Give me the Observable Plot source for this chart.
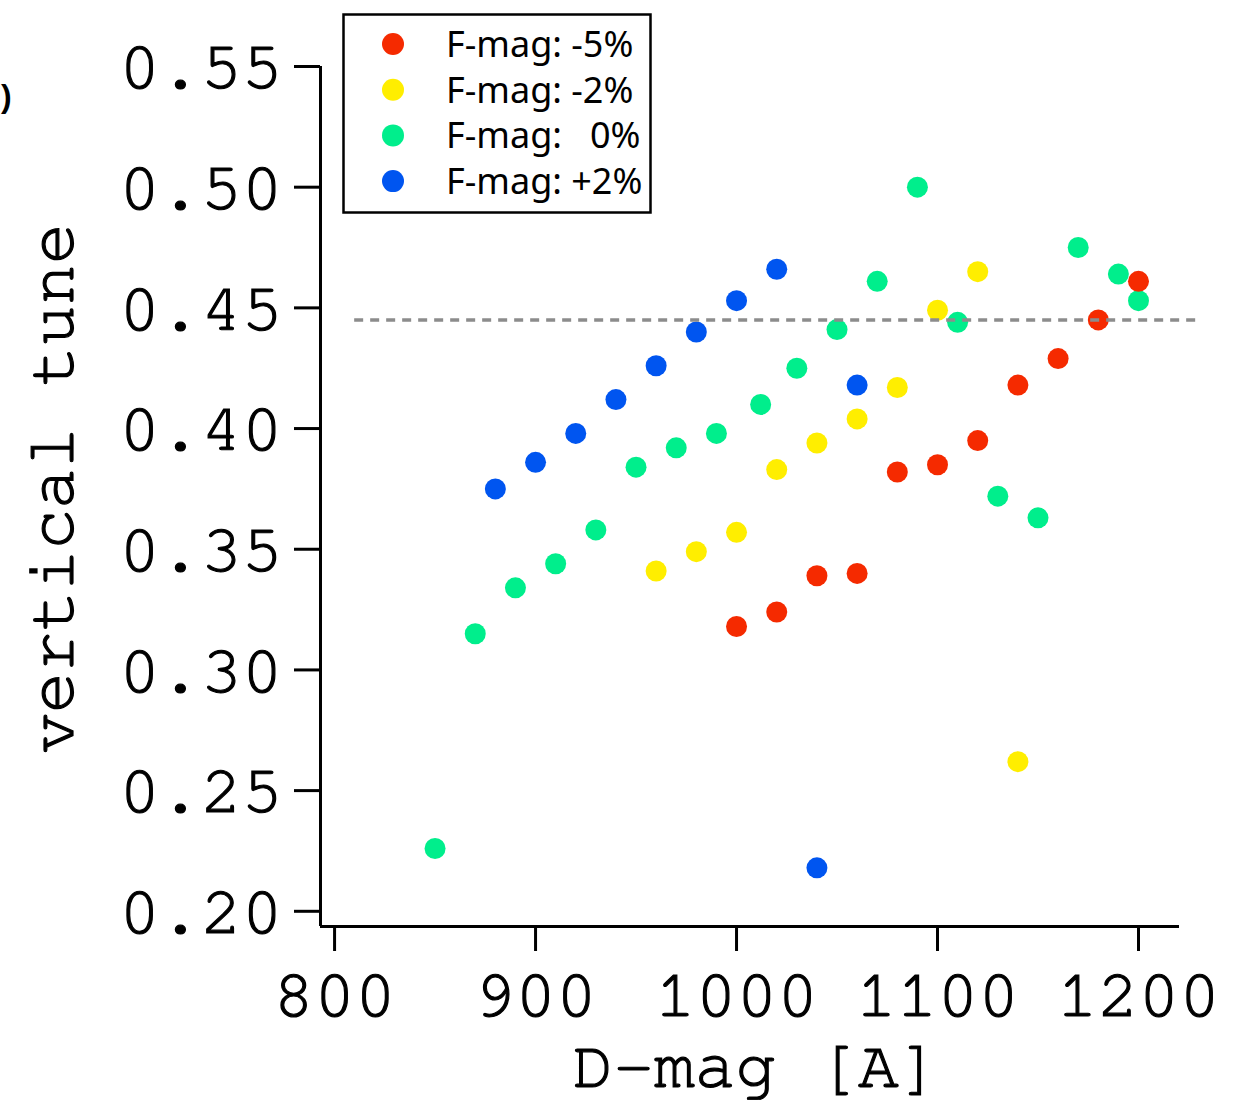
<!DOCTYPE html>
<html>
<head>
<meta charset="utf-8">
<script src="https://cdn.jsdelivr.net/npm/d3@7"></script>
<script src="https://cdn.jsdelivr.net/npm/@observablehq/plot@0.6"></script>
<style>
  html, body { margin: 0; padding: 0; background: #fff; }
  #wrap { position: relative; width: 1239px; height: 1100px; overflow: hidden; }
  #legend { position: absolute; left: 0; top: 0; }
  #frag { position: absolute; left: 1px; top: 80px; font: 700 32px "Liberation Sans", Arial, sans-serif; color: #000; line-height: 1; }
  .mainchart text { stroke: #000; stroke-width: 1.2px; }
</style>
</head>
<body>
<div id="wrap"></div>
<script>
// ---- data ----
const categories = ["F-mag: -5%", "F-mag: -2%", "F-mag:   0%", "F-mag: +2%"];
const colors = ["#f52a00", "#ffee00", "#00ee8c", "#0055f0"];

const redX    = [1000, 1020, 1040, 1060, 1080, 1100, 1120, 1140, 1160, 1180, 1200];
const redY    = [0.318, 0.324, 0.339, 0.340, 0.382, 0.385, 0.395, 0.418, 0.429, 0.445, 0.461];

const yellowX = [960, 980, 1000, 1020, 1040, 1060, 1080, 1100, 1120, 1140];
const yellowY = [0.341, 0.349, 0.357, 0.383, 0.394, 0.404, 0.417, 0.449, 0.465, 0.262];

const greenX  = [850, 870, 890, 910, 930, 950, 970, 990, 1012, 1030, 1050, 1070, 1090, 1110, 1130, 1150, 1170, 1190, 1200];
const greenY  = [0.226, 0.315, 0.334, 0.344, 0.358, 0.384, 0.392, 0.398, 0.410, 0.425, 0.441, 0.461, 0.500, 0.444, 0.372, 0.363, 0.475, 0.464, 0.453];

const blueX   = [880, 900, 920, 940, 960, 980, 1000, 1020, 1040, 1060];
const blueY   = [0.375, 0.386, 0.398, 0.412, 0.426, 0.440, 0.453, 0.466, 0.218, 0.418];

const xTicks = [800, 900, 1000, 1100, 1200];
const yTicks = [0.20, 0.25, 0.30, 0.35, 0.40, 0.45, 0.50, 0.55];
const refTune = 0.445;
const refRange = [810, 1229];
const xLabel = "D-mag [A]";
const yLabel = "vertical tune";

// ---- build ----
const xDomain = [793, 1220.4];
const yDomain = [0.1937, 0.55];

const series = [
  {x: redX, y: redY, c: 0},
  {x: yellowX, y: yellowY, c: 1},
  {x: greenX, y: greenY, c: 2},
  {x: blueX, y: blueY, c: 3}
];
const rows = series.flatMap(s => s.x.map((x, i) => ({x, y: s.y[i], cat: categories[s.c]})));
const drawOrder = [categories[2], categories[1], categories[3], categories[0]];
rows.sort((a, b) => drawOrder.indexOf(a.cat) - drawOrder.indexOf(b.cat));

const mono = "'Nimbus Mono PS', 'Nimbus Mono L', FreeMono, 'Courier New', Courier, 'Liberation Mono', monospace";

const chart = Plot.plot({
  className: "mainchart",
  width: 1239,
  height: 1100,
  marginLeft: 320,
  marginRight: 60,
  marginTop: 66,
  marginBottom: 174,
  style: {fontFamily: mono, fontSize: "68px", color: "#000", background: "#fff", overflow: "visible"},
  x: {domain: xDomain},
  y: {domain: yDomain},
  color: {domain: categories, range: colors},
  marks: [
    Plot.axisX({ticks: xTicks, tickSize: 25, tickPadding: 16, strokeWidth: 3, label: null, tickFormat: d => String(d), fontSize: 68}),
    Plot.axisY({ticks: yTicks, tickSize: 26, tickPadding: 12, strokeWidth: 3, label: null, tickFormat: d => d.toFixed(2), fontSize: 68}),
    Plot.ruleX([xDomain[0]], {stroke: "#000", strokeWidth: 3}),
    Plot.ruleY([yDomain[0]], {stroke: "#000", strokeWidth: 3}),
    Plot.dot(rows, {x: "x", y: "y", fill: "cat", r: 10.5, stroke: "none"}),
    Plot.ruleY([refTune], {x1: refRange[0], x2: refRange[1], stroke: "#8c8c8c", strokeWidth: 3.5, strokeDasharray: "9,7", clip: false}),
    Plot.text([xLabel], {frameAnchor: "bottom", dx: 6, dy: 160, lineAnchor: "bottom", textAnchor: "middle", fontSize: 68, fontFamily: mono, fill: "#000"}),
    Plot.text([yLabel], {frameAnchor: "left", dx: -248, dy: -8, rotate: -90, lineAnchor: "bottom", textAnchor: "middle", fontSize: 68, fontFamily: mono, fill: "#000"})
  ]
});
const wrap = document.getElementById("wrap");
wrap.appendChild(chart);

// legend
const lg = d3.select(wrap).append("svg").attr("id", "legend").attr("width", 1239).attr("height", 260);
lg.append("rect").attr("x", 343.5).attr("y", 14.5).attr("width", 307).attr("height", 198)
  .attr("fill", "#fff").attr("stroke", "#000").attr("stroke-width", 2.5);
categories.forEach((c, i) => {
  const cy = 44 + i * 45.7;
  lg.append("circle").attr("cx", 393).attr("cy", cy).attr("r", 11).attr("fill", colors[i]);
  lg.append("text").attr("x", 446).attr("y", cy + 13)
    .attr("font-family", "'Noto Sans', 'Open Sans', sans-serif").attr("font-size", 36)
    .attr("fill", "#000").attr("xml:space", "preserve").style("white-space", "pre").text(c);
});

// panel label fragment at left edge
const frag = document.createElement("div");
frag.id = "frag";
frag.textContent = ")";
wrap.appendChild(frag);
</script>
</body>
</html>
